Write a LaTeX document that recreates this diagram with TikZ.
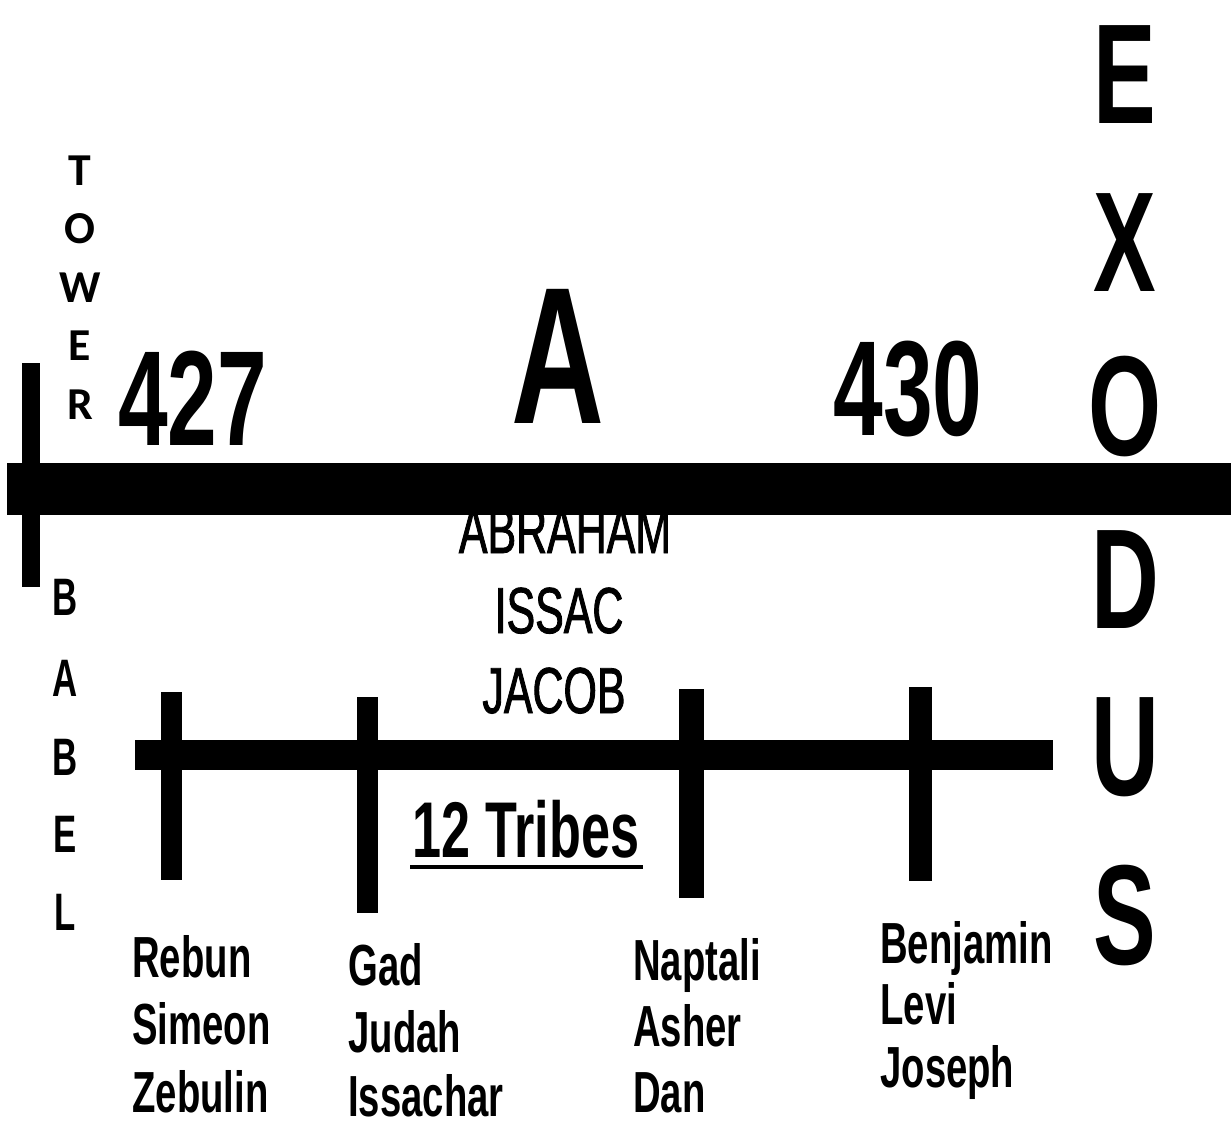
\documentclass[tikz,border=0pt]{standalone}
\usepackage{fontspec}
\newfontfamily\narrowfont[FakeStretch=0.66]{Liberation Sans}
\newfontfamily\mediumfont[FakeStretch=0.66, FakeBold=1.3]{Liberation Sans}
\newfontfamily\towerfont{Carlito}
\usetikzlibrary{positioning}

\begin{document}
\begin{tikzpicture}[x=0.02cm, y=-0.02cm]
% Styles for the labels and the bars
\tikzstyle{bar} = [fill=black, draw=none]
\tikzstyle{tower_letter} = [inner sep=0pt, anchor=base, font=\towerfont\bfseries\fontsize{26}{26}\selectfont]
\tikzstyle{exodus_letter} = [inner sep=0pt, anchor=base, font=\narrowfont\bfseries\fontsize{81}{81}\selectfont]
\tikzstyle{babel_letter} = [inner sep=0pt, anchor=base, font=\narrowfont\bfseries\fontsize{30}{30}\selectfont]
\tikzstyle{big_num} = [inner sep=0pt, anchor=base west, font=\narrowfont\bfseries\fontsize{77}{77}\selectfont]
\tikzstyle{patriarch} = [inner sep=0pt, anchor=base, font=\mediumfont\fontsize{37}{37}\selectfont]
\tikzstyle{tribe_name} = [inner sep=0pt, anchor=base west, font=\narrowfont\bfseries\fontsize{33}{33}\selectfont]
\fill[white] (0,0) rectangle (1231,1129);
\useasboundingbox (0,0) rectangle (1231,1129);

% Tower letters on the left
\node (t_t) [tower_letter] at (80,185) {T};
\node (t_o) [tower_letter] at (80,243) {O};
\node (t_w) [tower_letter] at (80,302) {W};
\node (t_e) [tower_letter] at (80,360) {E};
\node (t_r) [tower_letter] at (80,419) {R};

% Numbers and the big A
\node (num_427) [big_num] at (118,445) {427};
\node (num_430) [big_num] at (833,435) {430};
\node (big_a) [inner sep=0pt, anchor=base, font=\narrowfont\bfseries\fontsize{111}{111}\selectfont] at (558,423) {A};

% Patriarchs, drawn before the bar that cuts the first one
\node (abraham) [patriarch] at (565,553) {ABRAHAM};
\node (issac) [patriarch] at (559,633) {ISSAC};
\node (jacob) [patriarch] at (554,713) {JACOB};

% Main timeline
\fill[bar] (7,463) rectangle (1231,515);
\fill[bar] (22,363) rectangle (40,587);

% Babel letters
\node (b_b1) [babel_letter] at (65,615) {B};
\node (b_a) [babel_letter] at (65,696) {A};
\node (b_b2) [babel_letter] at (65,775) {B};
\node (b_e) [babel_letter] at (65,852) {E};
\node (b_l) [babel_letter] at (65,930) {L};

% Exodus letters on the right
\node (x_e) [exodus_letter] at (1125,123) {E};
\node (x_x) [exodus_letter] at (1125,291) {X};
\node (x_o) [exodus_letter] at (1125,455) {O};
\node (x_d) [exodus_letter] at (1125,628) {D};
\node (x_u) [exodus_letter] at (1125,795) {U};
\node (x_s) [exodus_letter] at (1125,964) {S};

% Tribes timeline
\fill[bar] (135,740) rectangle (1053,770);
\fill[bar] (161,692) rectangle (182,880);
\fill[bar] (357,697) rectangle (378,913);
\fill[bar] (679,689) rectangle (704,898);
\fill[bar] (909,687) rectangle (932,881);

\node (tribes) [inner sep=0pt, anchor=base, font=\narrowfont\bfseries\fontsize{45}{45}\selectfont] at (526,857) {12 Tribes};
\draw[line width=0.08cm] (410,867) -- (643,867);

% Tribe names
\node (rebun) [tribe_name] at (132,977) {Rebun};
\node (simeon) [tribe_name, below=1.36cm of rebun.base west, anchor=base west] {Simeon};
\node (zebulin) [tribe_name, below=1.36cm of simeon.base west, anchor=base west] {Zebulin};

\node (gad) [tribe_name] at (348,985) {Gad};
\node (judah) [tribe_name, below=1.36cm of gad.base west, anchor=base west] {Judah};
\node (issachar) [tribe_name, below=1.28cm of judah.base west, anchor=base west] {Issachar};

\node (naptali) [tribe_name] at (633,980) {Naptali};
\node (asher) [tribe_name, below=1.34cm of naptali.base west, anchor=base west] {Asher};
\node (dan) [tribe_name, below=1.32cm of asher.base west, anchor=base west] {Dan};

\node (benjamin) [tribe_name] at (880,963) {Benjamin};
\node (levi) [tribe_name, below=1.24cm of benjamin.base west, anchor=base west] {Levi};
\node (joseph) [tribe_name, below=1.26cm of levi.base west, anchor=base west] {Joseph};
\end{tikzpicture}
\end{document}
